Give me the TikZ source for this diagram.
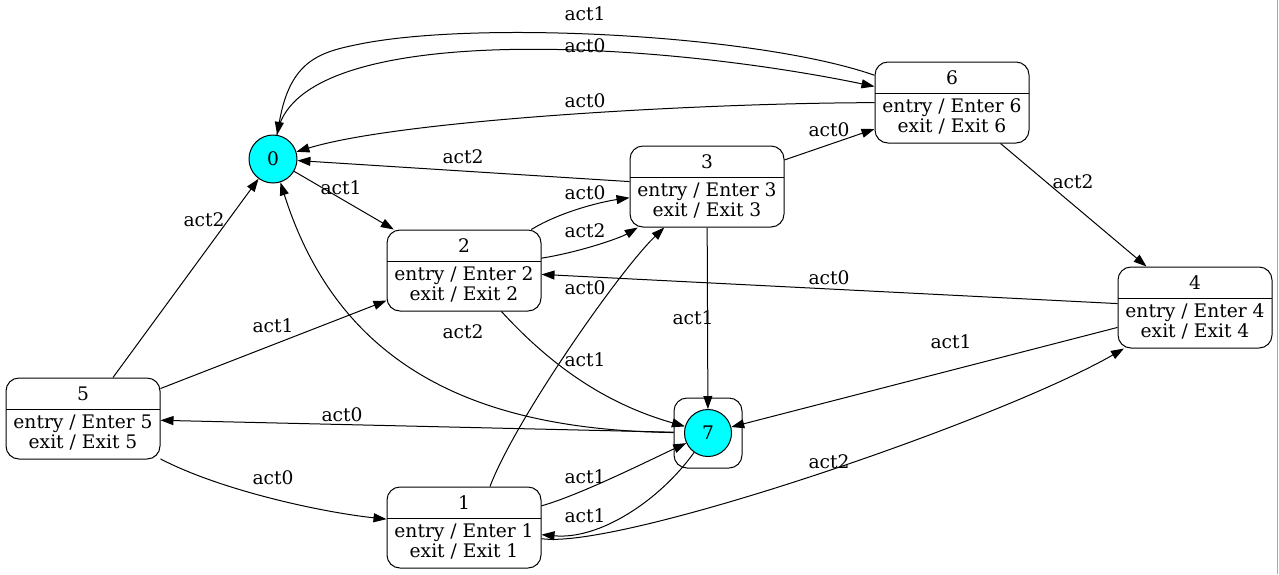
\documentclass[tikz,border=0pt]{standalone}
\usepackage{fontspec}
\setmainfont{DejaVu Serif}
\usetikzlibrary{arrows.meta}
\definecolor{statefill}{RGB}{0,255,255}

\begin{document}
\begin{tikzpicture}[x=1pt, y=-1pt, line width=1pt,
        >={Triangle[length=13pt,width=9pt]},
        every node/.style={font=\fontsize{18.67pt}{20pt}\selectfont},
        statebox/.style={draw, rounded corners=13pt, minimum width=154pt,
            minimum height=81pt, inner sep=0pt, align=center,
            path picture={\draw ([yshift=-31pt]path picture bounding box.north west)
                -- ([yshift=-31pt]path picture bounding box.north east);}},
        initstate/.style={draw, circle, fill=statefill, minimum size=48pt, inner sep=0pt},
        holder/.style={draw, rounded corners=13pt, minimum width=68pt, minimum height=70pt},
        lbl/.style={inner sep=0pt}]
        \useasboundingbox (0,0) rectangle (1279,574);

        \node[initstate] (S0) at (273,159) {0};
        \node[statebox] (S6) at (952,102.5) {6\\[8pt]entry / Enter 6\\exit / Exit 6};
        \node[statebox] (S3) at (707,186.5) {3\\[8pt]entry / Enter 3\\exit / Exit 3};
        \node[statebox] (S2) at (464,270.5) {2\\[8pt]entry / Enter 2\\exit / Exit 2};
        \node[statebox] (S4) at (1195,307.5) {4\\[8pt]entry / Enter 4\\exit / Exit 4};
        \node[statebox] (S5) at (83,418.5) {5\\[8pt]entry / Enter 5\\exit / Exit 5};
        \node[statebox] (S1) at (464,527.5) {1\\[8pt]entry / Enter 1\\exit / Exit 1};
        \node[holder] (S7box) at (708,433) {};
        \node[initstate, minimum size=47pt] (S7) at (708,433) {7};

        \draw[->] (S6) .. controls (760,35) and (480,20) .. (360,44)
            .. controls (320,52) and (290,60) .. (S0) node[lbl] at (585,14) {act1};
        \draw[->] (S0) .. controls (295,20) and (650,40) .. (S6) node[lbl] at (585,46) {act0};
        \draw[->] (S6) .. controls (700,103) and (400,120) .. (S0) node[lbl] at (585,101) {act0};
        \draw[->] (S3) -- (S0) node[lbl] at (463,157) {act2};
        \draw[->] (S0) -- (S2) node[lbl] at (341,188) {act1};
        \draw[->] (S2) .. controls (560,212) and (600,202) .. (S3) node[lbl] at (585,193) {act0};
        \draw[->] (S2) .. controls (580,252) and (620,238) .. (S3) node[lbl] at (585,231) {act2};
        \draw[->] (S4) -- (S2) node[lbl] at (829,278) {act0};
        \draw[->] (S5) -- (S0) node[lbl] at (204,220) {act2};
        \draw[->] (S7box) .. controls (480,430) and (340,370) .. (S0) node[lbl] at (463,332) {act2};
        \draw[->] (S7box) -- (S5) node[lbl] at (342,415) {act0};
        \draw[->] (S5) -- (S2) node[lbl] at (273,326) {act1};
        \draw[->] (S5) .. controls (220,490) and (320,512) .. (S1) node[lbl] at (273,478) {act0};
        \draw[->] ([xshift=26pt]S1.north) .. controls (515,420) and (620,270) .. (S3) node[lbl] at (585,288) {act0};
        \draw[->] (S2) .. controls (555,370) and (610,405) .. (S7) node[lbl] at (585,360) {act1};
        \draw[->] (S3) -- (S7) node[lbl] at (693,318) {act1};
        \draw[->] (S4) -- (S7) node[lbl] at (951,342) {act1};
        \draw[->] (S1) .. controls (580,495) and (650,460) .. (S7) node[lbl] at (585,477) {act1};
        \draw[->] (S7) .. controls (660,500) and (600,540) .. (S1) node[lbl] at (585,516) {act1};
        \draw[->] (S1) .. controls (620,550) and (1000,420) .. (S4) node[lbl] at (829,462) {act2};
        \draw[->] (S3) -- (S6) node[lbl] at (829,130) {act0};
        \draw[->] (S6) -- (S4) node[lbl] at (1073,182) {act2};

        \draw[gray!70, line width=1.5pt] (1277.5,0) -- (1277.5,574);
\end{tikzpicture}
\end{document}
